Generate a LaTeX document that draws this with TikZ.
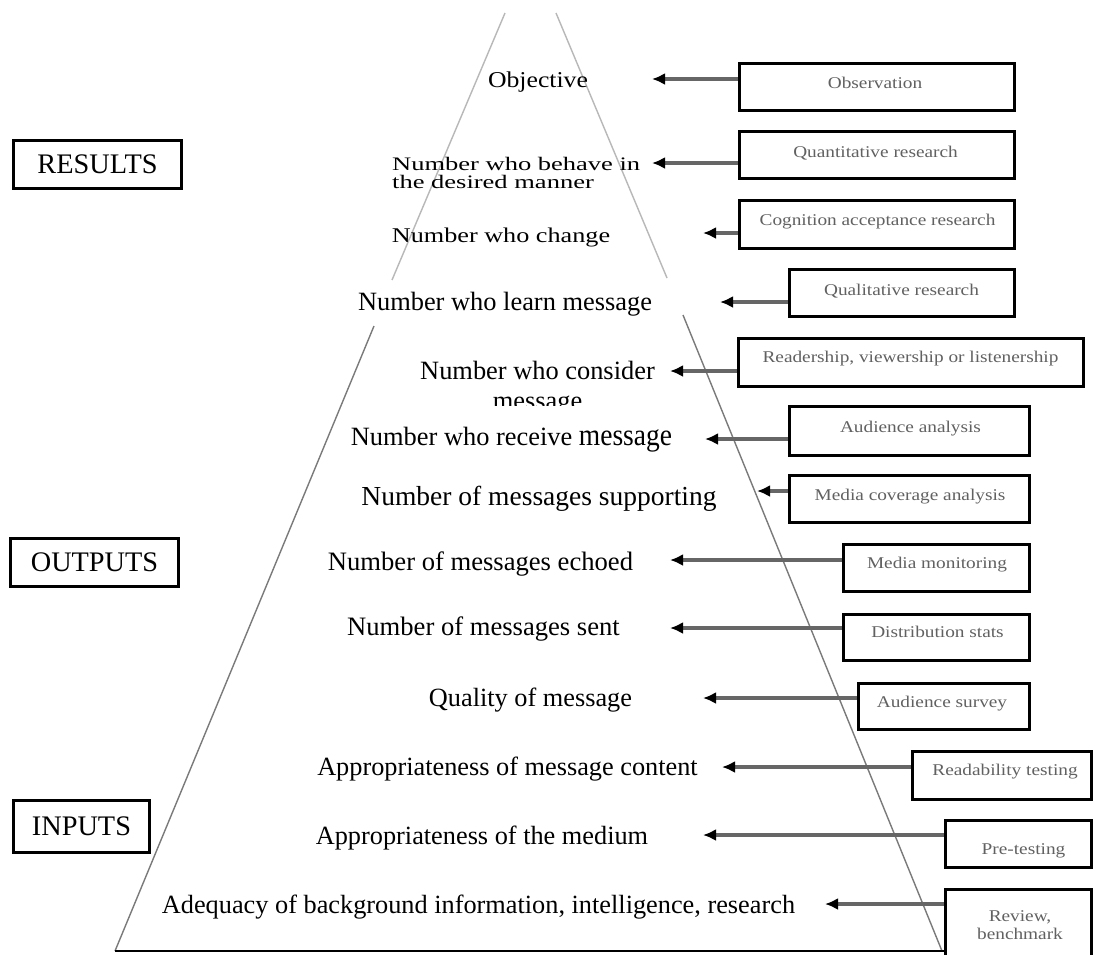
\documentclass[tikz,border=0pt]{standalone}
\usepackage{fontspec}
\usepackage{graphicx}
\setmainfont{Liberation Serif}
\usetikzlibrary{arrows.meta}

\tikzset{
  tier/.style={inner sep=0pt, anchor=base, font=\fontsize{26.3}{30}\selectfont},
  method/.style={inner sep=0pt, anchor=base, text=black!62, font=\fontsize{19.3}{22}\selectfont},
  methodbox/.style={draw=black, line width=3pt, inner sep=0pt},
  levelbox/.style={draw=black, line width=3pt, inner sep=0pt, font=\fontsize{28.3}{32}\selectfont},
  upperedge/.style={draw=black!28, line width=1.4pt},
  loweredge/.style={draw=black!52, line width=1.4pt},
  baseedge/.style={draw=black, line width=2.6pt},
  feed/.style={draw=black!60, line width=3.2pt, -{Latex[length=13pt,width=12pt,color=black]}}
}

\newcommand{\squash}[2]{\scalebox{1}[#1]{#2}}

\begin{document}
\begin{tikzpicture}[x=1pt,y=-1pt]
\clip (0,0) rectangle (1097,954);
\fill[white] (0,0) rectangle (1097,954);

% pyramid outline: upper triangle and lower trapezoid
\draw[upperedge] (505,13) -- (392,280);
\draw[upperedge] (556,13) -- (667,278);
\draw[loweredge] (374,326) -- (115,951);
\draw[loweredge] (683,315) -- (942,951);
\draw[baseedge] (115,951) -- (945,951);

% level boxes on the left
\node[levelbox, minimum width=168pt, minimum height=48pt] (results) at (97.5,164.5) {RESULTS};
\node[levelbox, minimum width=168pt, minimum height=48pt] (outputs) at (94.5,562.5) {OUTPUTS};
\node[levelbox, minimum width=136pt, minimum height=52pt] (inputs) at (81.5,826.5) {INPUTS};

% measures inside the pyramid
\node[tier, font=\fontsize{25.7}{30}\selectfont] (objective) at (538,87) {\squash{0.88}{Objective}};
\node[tier, anchor=base west, font=\fontsize{26.5}{23}\selectfont] (behave) at (392,170)
  {\squash{0.72}{\begin{tabular}[t]{@{}l@{}}Number who behave in\\the desired manner\end{tabular}}};
\node[tier, font=\fontsize{26.2}{30}\selectfont] (change) at (501,242) {\squash{0.8}{Number who change}};
\node[tier, font=\fontsize{26.4}{30}\selectfont] (learn) at (505,310) {Number who learn message};
\node[tier, font=\fontsize{26.4}{30}\selectfont] (consider) at (537.5,379)
  {\begin{tabular}[t]{@{}c@{}}Number who consider\\message\end{tabular}};
\node[tier, fill=white, text height=39pt, text depth=8pt, font=\fontsize{26.4}{30}\selectfont] (receive) at (511.5,445)
  {Number who receive {\fontsize{27.5}{30}\selectfont\squash{1.12}{message}}};
\node[tier, font=\fontsize{27.5}{30}\selectfont] (supporting) at (539,505) {Number of messages supporting};
\node[tier, font=\fontsize{26.6}{30}\selectfont] (echoed) at (480.5,570) {Number of messages echoed};
\node[tier, font=\fontsize{26.6}{30}\selectfont] (sent) at (483.5,635) {Number of messages sent};
\node[tier] (quality) at (530.5,706) {Quality of message};
\node[tier] (content) at (507.5,775) {Appropriateness of message content};
\node[tier] (medium) at (482,844) {Appropriateness of the medium};
\node[tier] (adequacy) at (478.5,913) {Adequacy of background information, intelligence, research};

% research method boxes on the right
\node[methodbox, minimum width=275pt, minimum height=47pt] (obs) at (877,87) {};
\node[methodbox, minimum width=275pt, minimum height=47pt] (quant) at (877,155) {};
\node[methodbox, minimum width=275pt, minimum height=48pt] (cog) at (877,224.5) {};
\node[methodbox, minimum width=225pt, minimum height=47pt] (qual) at (902,293) {};
\node[methodbox, minimum width=345pt, minimum height=48pt] (readers) at (911,362.5) {};
\node[methodbox, minimum width=240pt, minimum height=49pt] (audan) at (909.5,431) {};
\node[methodbox, minimum width=240pt, minimum height=47pt] (medcov) at (909.5,499) {};
\node[methodbox, minimum width=186pt, minimum height=47pt] (medmon) at (936.5,568) {};
\node[methodbox, minimum width=186pt, minimum height=46pt] (dist) at (936.5,637.5) {};
\node[methodbox, minimum width=171pt, minimum height=46pt] (audsur) at (944,706.5) {};
\node[methodbox, minimum width=179pt, minimum height=48pt] (readab) at (1002,775.5) {};
\node[methodbox, minimum width=146pt, minimum height=47pt] (pretest) at (1018.5,844) {};
\node[methodbox, minimum width=146pt, minimum height=84pt] (review) at (1018.5,931.5) {};

\node[method] (obs-t) at (875,88) {\squash{0.85}{Observation}};
\node[method] (quant-t) at (875.5,157) {\squash{0.85}{Quantitative research}};
\node[method] (cog-t) at (877.5,225) {\squash{0.85}{Cognition acceptance research}};
\node[method] (qual-t) at (901.5,295) {\squash{0.85}{Qualitative research}};
\node[method] (readers-t) at (910.5,362) {\squash{0.85}{Readership, viewership or listenership}};
\node[method] (audan-t) at (910.5,432) {\squash{0.85}{Audience analysis}};
\node[method] (medcov-t) at (910,500) {\squash{0.85}{Media coverage analysis}};
\node[method] (medmon-t) at (937,568) {\squash{0.85}{Media monitoring}};
\node[method] (dist-t) at (937.5,637) {\squash{0.85}{Distribution stats}};
\node[method] (audsur-t) at (942,707) {\squash{0.85}{Audience survey}};
\node[method] (readab-t) at (1005,775) {\squash{0.85}{Readability testing}};
\node[method] (pretest-t) at (1023.5,854) {\squash{0.85}{Pre-testing}};
\node[method] (review-t) at (1020,921)
  {\squash{0.85}{\begin{tabular}[t]{@{}c@{}}Review,\\benchmark\end{tabular}}};

% arrow tips beside each measure
\coordinate (obs-tip) at (652,79);
\coordinate (quant-tip) at (652,163);
\coordinate (cog-tip) at (703,233);
\coordinate (qual-tip) at (720,302);
\coordinate (readers-tip) at (670,371);
\coordinate (audan-tip) at (705,439);
\coordinate (medcov-tip) at (757,491);
\coordinate (medmon-tip) at (670,560);
\coordinate (dist-tip) at (670,628);
\coordinate (audsur-tip) at (703,698);
\coordinate (readab-tip) at (722,767);
\coordinate (pretest-tip) at (703,835);
\coordinate (review-tip) at (825,904);

\foreach \m in {obs,quant,cog,qual,readers,audan,medcov,medmon,dist,audsur,readab,pretest,review}
  \draw[feed] (\m.west |- \m-tip) -- (\m-tip);
\end{tikzpicture}
\end{document}
